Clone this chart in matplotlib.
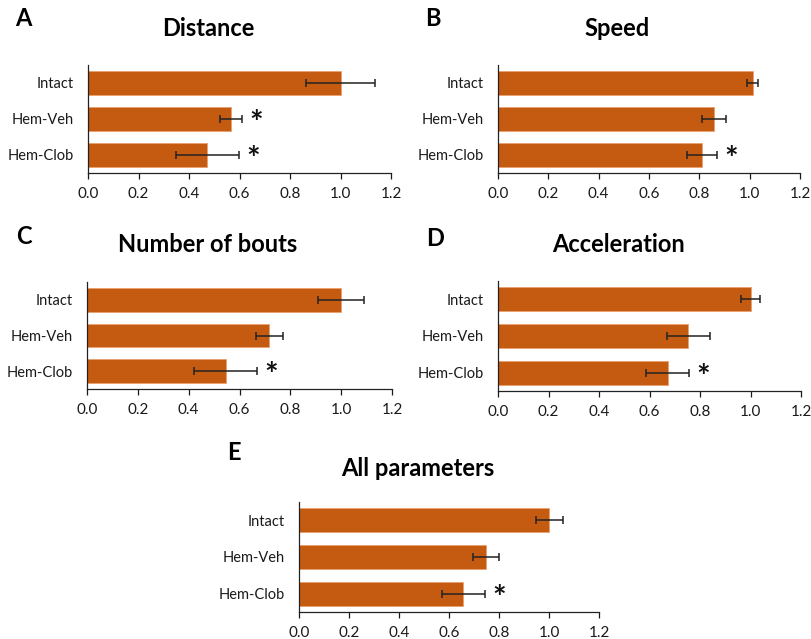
import numpy as np
import matplotlib
matplotlib.use("Agg")
import matplotlib.pyplot as plt

plt.rcParams["font.family"] = ["Lato", "DejaVu Sans"]

groups = ["Intact", "Hem-Veh", "Hem-Clob"]

distance_mean = [1.0, 0.566, 0.473]
distance_err = [0.135, 0.044, 0.126]
distance_sig = [False, True, True]

speed_mean = [1.012, 0.858, 0.812]
speed_err = [0.022, 0.049, 0.060]
speed_sig = [False, False, True]

bouts_mean = [1.0, 0.718, 0.545]
bouts_err = [0.090, 0.055, 0.123]
bouts_sig = [False, False, True]

accel_mean = [1.0, 0.754, 0.672]
accel_err = [0.038, 0.086, 0.084]
accel_sig = [False, False, True]

all_mean = [1.0, 0.748, 0.657]
all_err = [0.054, 0.051, 0.087]
all_sig = [False, False, True]

xticks = [0.0, 0.2, 0.4, 0.6, 0.8, 1.0, 1.2]

W, H = 811, 639
fig = plt.figure(figsize=(W / 100, H / 100), dpi=100)

BAR = "#C55A11"


def panel(box, mean, err, sig, title, letter, title_xy, letter_xy):
    left, right, top, bottom = box
    ax = fig.add_axes([left / W, 1 - bottom / H, (right - left) / W, (bottom - top) / H])
    y = np.arange(len(groups))
    ax.barh(y, mean, height=0.66, color=BAR, edgecolor="#E9A070", linewidth=0.6,
            xerr=err, error_kw=dict(ecolor="#222222", elinewidth=1.1, capsize=2.8, capthick=1.1))
    for yi, m, e, s in zip(y, mean, err, sig):
        if s:
            ax.text(m + e + 0.055, yi + 0.15, "*", ha="center", va="center",
                    fontsize=23, fontweight="bold", color="#111111")
    ax.set_ylim(2.5, -0.5)
    ax.set_xlim(0, 1.2)
    ax.set_xticks(xticks)
    ax.set_xticklabels(["%.1f" % t for t in xticks])
    ax.set_yticks(y)
    ax.set_yticklabels(groups)
    ax.tick_params(axis="y", length=0, pad=10, labelsize=10.5, colors="#1a1a1a")
    ax.tick_params(axis="x", length=4, width=0.9, pad=6, labelsize=11, colors="#1a1a1a")
    for s in ["top", "right"]:
        ax.spines[s].set_visible(False)
    for s in ["left", "bottom"]:
        ax.spines[s].set_linewidth(0.9)
        ax.spines[s].set_color("#222222")
    fig.text(title_xy[0] / W, 1 - title_xy[1] / H, title, ha="center", va="center",
             fontsize=17, fontweight="bold")
    fig.text(letter_xy[0] / W, 1 - letter_xy[1] / H, letter, ha="center", va="center",
             fontsize=17, fontweight="bold")
    return ax


panel((88, 391, 65, 173), distance_mean, distance_err, distance_sig,
      "Distance", "A", (208, 29), (23, 19))
panel((498, 800, 65, 173), speed_mean, speed_err, speed_sig,
      "Speed", "B", (617, 29), (433, 19))
panel((87, 392, 282, 389), bouts_mean, bouts_err, bouts_sig,
      "Number of bouts", "C", (208, 245), (24, 237))
panel((498, 801, 281, 391), accel_mean, accel_err, accel_sig,
      "Acceleration", "D", (618, 245), (435, 238))
panel((299, 599, 502, 612), all_mean, all_err, all_sig,
      "All parameters", "E", (418, 468), (234, 453))

fig.savefig("out.png", dpi=100)
